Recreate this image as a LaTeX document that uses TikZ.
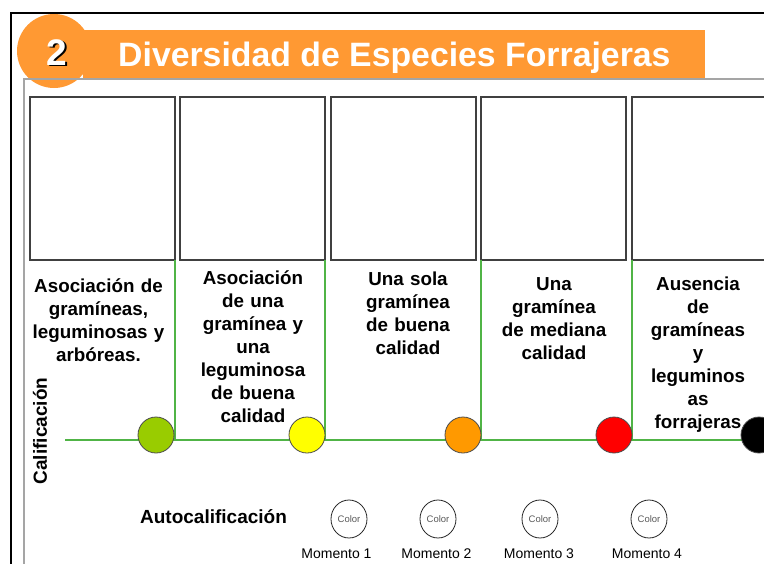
\documentclass[tikz,border=0pt]{standalone}
\usepackage{fontspec}
\setmainfont{Liberation Sans}
\usetikzlibrary{shapes.geometric}
\definecolor{bannerorange}{RGB}{255,153,51}
\definecolor{lineg}{RGB}{80,180,70}
\definecolor{dotgreen}{RGB}{153,204,0}
\definecolor{dotyellow}{RGB}{255,255,0}
\definecolor{dotorange}{RGB}{255,153,0}
\definecolor{dotred}{RGB}{255,0,0}
\definecolor{framegray}{RGB}{165,165,165}
\begin{document}
\begin{tikzpicture}[x=1pt,y=-1pt,
  lbl/.style={font=\fontsize{18.8}{23}\selectfont\bfseries, align=center, text width=148pt, anchor=north, inner sep=0pt},
  dot/.style={circle, draw=black!70, line width=0.8pt, minimum size=36pt, inner sep=0pt},
  cbox/.style={draw=black!75, line width=1.3pt, minimum width=145pt, minimum height=163pt, inner sep=0pt, outer sep=0pt},
  gline/.style={draw=lineg, line width=1.4pt},
  colorc/.style={ellipse, draw=black!85, line width=0.8pt, minimum width=36pt, minimum height=38pt, inner sep=0pt, font=\fontsize{9.5}{10}\selectfont, text=black!65},
  mom/.style={font=\fontsize{14}{16}\selectfont, anchor=base, inner sep=0pt}]
\useasboundingbox (0,0) rectangle (764,563);
\clip (0,0) rectangle (764,563);
\fill[white] (0,0) rectangle (764,563);
% outer frame
\draw[black, line width=2pt] (11,570) -- (11,13) -- (770,13);
% banner and circle
\fill[bannerorange] (83,30) rectangle (705,79);
\fill[bannerorange] (54,51) circle (37);
% inner frame
\draw[framegray, line width=1.5pt] (24,570) -- (24,79) -- (770,79);
\node[anchor=base, inner sep=0pt, font=\fontsize{37}{40}\selectfont\bfseries, text=black] (twoS) at (58.5,66.5) {2};
\node[anchor=base, inner sep=0pt, font=\fontsize{37}{40}\selectfont\bfseries, text=white] (two) at (57,65) {2};
\node[anchor=base west, inner sep=0pt, font=\fontsize{33.8}{36}\selectfont\bfseries, text=white] (title) at (118,66) {Diversidad de Especies Forrajeras};
% boxes
\node[cbox] (b1) at (102.5,178.5) {};
\node[cbox] (b2) at (252.5,178.5) {};
\node[cbox] (b3) at (403.5,178.5) {};
\node[cbox] (b4) at (553.5,178.5) {};
\node[cbox] (b5) at (704.5,178.5) {};
% green lines
\coordinate (hl) at (65,440);
\coordinate (hr) at (742,440);
\draw[gline] (hl) -- (hr);
\draw[gline] (b1.south east) -- (b1.south east |- hl);
\draw[gline] (b2.south east) -- (b2.south east |- hl);
\draw[gline] (b4.south west) -- (b4.south west |- hl);
\draw[gline] (b5.south west) -- (b5.south west |- hl);
% dots
\node[dot, fill=dotgreen] (d1) at (156,435) {};
\node[dot, fill=dotyellow] (d2) at (307,435) {};
\node[dot, fill=dotorange] (d3) at (463,435) {};
\node[dot, fill=dotred] (d4) at (614,435) {};
\node[dot, fill=black] (d5) at (759,435) {};
% labels
\node[lbl] (t1) at (98.5,275.7) {\strut Asociación de\\gramíneas,\\leguminosas y\\arbóreas.};
\node[lbl] (t2) at (253,268.2) {\strut Asociación\\de una\\gramínea y\\una\\leguminosa\\de buena\\calidad};
\node[lbl] (t3) at (408,268.9) {\strut Una sola\\gramínea\\de buena\\calidad};
\node[lbl] (t4) at (554,274.6) {\strut Una\\gramínea\\de mediana\\calidad};
\node[lbl] (t5) at (698,274.6) {\strut Ausencia\\de\\gramíneas\\y\\leguminos\\as\\forrajeras};
\node[rotate=90, inner sep=0pt, font=\fontsize{19}{22}\selectfont\bfseries] (calif) at (40,431) {Calificación};
\node[anchor=base, inner sep=0pt, font=\fontsize{19}{22}\selectfont\bfseries] (auto) at (213.5,523) {Autocalificación};
% color circles
\node[colorc] (c1) at (349,519) {Color};
\node[colorc] (c2) at (438,519) {Color};
\node[colorc] (c3) at (540,519) {Color};
\node[colorc] (c4) at (649,519) {Color};
\node[mom] (m1) at (336.5,558) {Momento 1};
\node[mom] (m2) at (436.5,558) {Momento 2};
\node[mom] (m3) at (539,558) {Momento 3};
\node[mom] (m4) at (647,558) {Momento 4};
\end{tikzpicture}
\end{document}
